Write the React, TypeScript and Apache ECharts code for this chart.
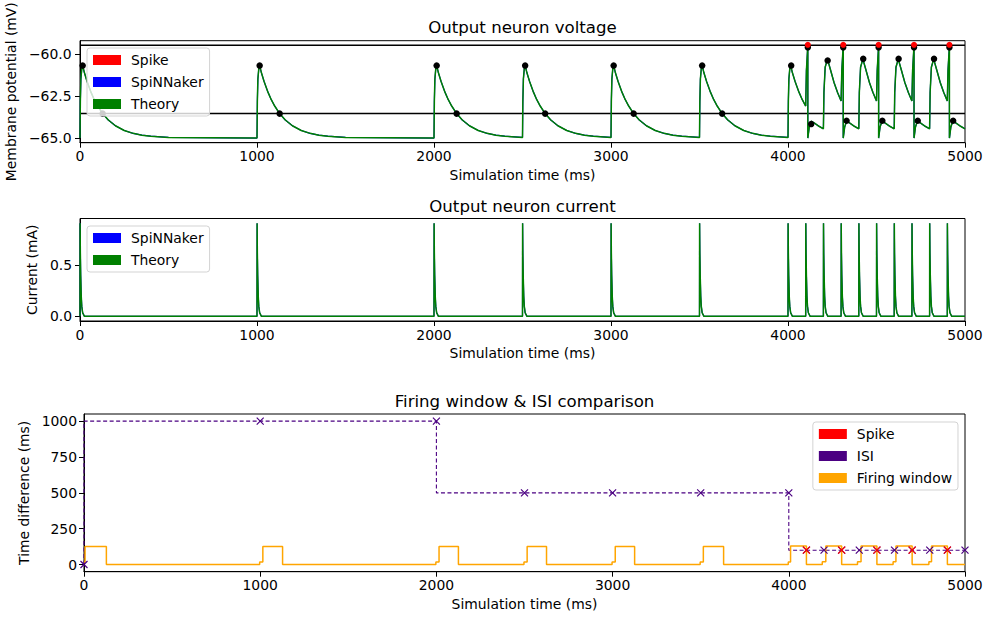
import React, { useEffect, useRef } from 'react';
import * as echarts from 'echarts';

// ---------- data ----------
const simEnd = 5000;
const xTicks = [0, 1000, 2000, 3000, 4000, 5000];

const inputTimes = [0, 1000, 2000, 2500, 3000, 3500, 4000, 4100, 4200, 4300, 4400, 4500, 4600, 4700, 4800, 4900];
const segmentKinds = ['rest', 'rest', 'rest', 'rest', 'rest', 'rest', 'rest', 'spike', 'rebound', 'spike', 'rebound', 'spike', 'rebound', 'spike', 'rebound', 'spike'];

// voltage response after an input from rest (ms offset, mV)
const restOffsets = [0, 2, 5, 10, 15, 25, 40, 60, 80, 100, 128, 160, 200, 250, 300, 350, 400, 500];
const restValues = [-65.0, -62.8, -61.5, -60.9, -60.7, -61.13, -61.64, -62.23, -62.71, -63.1, -63.55, -63.93, -64.27, -64.55, -64.72, -64.83, -64.89, -64.96];
// input that crosses threshold, reset, then small rise
const spikeOffsets = [4, 12, 12, 20, 31, 50, 75, 100];
const spikeValues = [-61.0, -59.5, -65.0, -64.35, -64.0, -64.12, -64.3, -64.45];
// input from just below rest after a reset
const reboundOffsets = [3, 10, 23, 40, 60, 80, 100];
const reboundValues = [-62.3, -60.8, -60.32, -60.95, -61.7, -62.3, -62.8];

// synaptic current kernel (ms offset, mA)
const currentOffsets = [0, 0.6, 2, 4, 7, 10, 15, 25];
const currentValues = [0, 0.914, 0.62, 0.4, 0.2, 0.1, 0.035, 0];

const thresholdV = -59.5;
const windowBoundV = -63.55;

const peakDotTimes = [15, 1015, 2015, 2515, 3015, 3515, 4018, 4224, 4425, 4625, 4825];
const peakDotValues = [-60.7, -60.7, -60.7, -60.7, -60.7, -60.7, -60.7, -60.4, -60.3, -60.3, -60.3];
const lowDotTimes = [128, 1128, 2128, 2628, 3128, 3628, 4131, 4331, 4533, 4733, 4933];
const lowDotValues = [-63.55, -63.55, -63.55, -63.55, -63.55, -63.55, -64.17, -63.97, -63.97, -63.97, -63.97];
const outputSpikeTimes = [4112, 4312, 4512, 4712, 4912];

// ISI
const isiTimes = [0, 1000, 2000, 2500, 3000, 3500, 4000, 4100, 4200, 4300, 4400, 4500, 4600, 4700, 4800, 4900, 5000];
const isiValues = [0, 1000, 1000, 500, 500, 500, 500, 100, 100, 100, 100, 100, 100, 100, 100, 100, 100];
const spikeIsiTimes = [4100, 4300, 4500, 4700, 4900];
const spikeIsiValues = [100, 100, 100, 100, 100];

// firing window (value held from each time)
const windowTimes = [0, 6, 127, 997, 1015, 1127, 1997, 2015, 2125, 2497, 2515, 2625, 2997, 3015, 3125, 3497, 3515, 3630, 3997, 4010, 4100, 4190, 4210, 4300, 4390, 4410, 4500, 4592, 4608, 4700, 4795, 4810, 4900, 5000];
const windowValues = [18, 125, 0, 18, 125, 0, 18, 125, 0, 18, 125, 0, 18, 125, 0, 18, 125, 0, 18, 130, 0, 20, 130, 0, 20, 130, 0, 20, 130, 0, 20, 130, 0, 0];

const vTicks = [-65, -62.5, -60];
const iTicks = [0, 0.5];
const dTicks = [0, 250, 500, 750, 1000];

// ---------- build ----------
const profiles: Record<string, { o: number[]; v: number[] }> = {
  rest: { o: restOffsets, v: restValues },
  spike: { o: spikeOffsets, v: spikeValues },
  rebound: { o: reboundOffsets, v: reboundValues },
};

function buildVoltage() {
  const pts: number[][] = [];
  inputTimes.forEach((t0, i) => {
    const t1 = i + 1 < inputTimes.length ? inputTimes[i + 1] : simEnd;
    const p = profiles[segmentKinds[i]];
    p.o.forEach((off, j) => {
      if (t0 + off <= t1) pts.push([t0 + off, p.v[j]]);
    });
  });
  return pts;
}

function buildCurrent() {
  const pts: number[][] = [];
  inputTimes.forEach((t0) => {
    currentOffsets.forEach((off, j) => pts.push([t0 + off, currentValues[j]]));
  });
  pts.push([simEnd, 0]);
  return pts;
}

const zip = (a: number[], b: number[]) => a.map((x, i) => [x, b[i]]);

const FONT = 'DejaVu Sans';
const FS = 13.9;
const xMark = 'path://M0,0L10,10M10,0L0,10';

function xAxisCfg(gridIndex: number) {
  return {
    type: 'value',
    gridIndex,
    min: 0,
    max: simEnd,
    interval: 1000,
    name: 'Simulation time (ms)',
    nameLocation: 'middle',
    nameGap: 25,
    nameTextStyle: { fontSize: FS, color: '#000', fontFamily: FONT },
    axisLine: { show: true, onZero: false, lineStyle: { color: '#000', width: 1 } },
    axisTick: { show: true, inside: false, length: 5, lineStyle: { color: '#000', width: 1 }, customValues: xTicks },
    axisLabel: { color: '#000', fontSize: FS, fontFamily: FONT, margin: 6.5, customValues: xTicks, formatter: (v: number) => String(v) },
    splitLine: { show: false },
  };
}

function yAxisCfg(gridIndex: number, min: number, max: number, ticks: number[], name: string, nameGap: number, fmt: (v: number) => string, margin: number) {
  return {
    type: 'value',
    gridIndex,
    min,
    max,
    name,
    nameLocation: 'middle',
    nameGap,
    nameTextStyle: { fontSize: FS, color: '#000', fontFamily: FONT },
    axisLine: { show: true, onZero: false, lineStyle: { color: '#000', width: 1 } },
    axisTick: { show: true, inside: false, length: 5, lineStyle: { color: '#000', width: 1 }, customValues: ticks },
    axisLabel: { color: '#000', fontSize: FS, fontFamily: FONT, margin, customValues: ticks, formatter: fmt },
    splitLine: { show: false },
  };
}

const legendBase = {
  orient: 'vertical',
  icon: 'rect',
  itemWidth: 28,
  itemHeight: 10,
  itemGap: 8,
  padding: [5, 6, 5, 6],
  backgroundColor: 'rgba(255,255,255,0.8)',
  borderColor: '#d3d3d3',
  borderWidth: 1,
  borderRadius: 3,
  selectedMode: false,
  z: 20,
  textStyle: { fontSize: FS, fontFamily: FONT, color: '#000', lineHeight: 14, padding: [0, 0, 0, 5] },
};

const RED = '#ff0000';
const BLUE = '#0000ff';
const GREEN = '#008000';
const INDIGO = '#4b0082';
const ORANGE = '#ffa500';

const legendItem = (name: string, color: string) => ({ name, itemStyle: { color, borderWidth: 0, opacity: 1 } });

export default function App() {
  const ref = useRef<HTMLDivElement>(null);
  useEffect(() => {
    if (!ref.current) return;
    const chart = echarts.init(ref.current, null, { renderer: 'svg' });
    const voltage = buildVoltage();
    const current = buildCurrent();
    const minus = (s: string) => s.replace('-', '\u2212');
    const titleStyle = { fontSize: 16.6, fontWeight: 'normal', color: '#000', fontFamily: FONT };

    const option: any = {
      animation: false,
      textStyle: { fontFamily: FONT },
      title: [
        { text: 'Output neuron voltage', left: 522.5, top: 27, textAlign: 'center', textVerticalAlign: 'middle', padding: 0, textStyle: titleStyle },
        { text: 'Output neuron current', left: 522.5, top: 206, textAlign: 'center', textVerticalAlign: 'middle', padding: 0, textStyle: titleStyle },
        { text: 'Firing window & ISI comparison', left: 524.5, top: 401, textAlign: 'center', textVerticalAlign: 'middle', padding: 0, textStyle: titleStyle },
      ],
      grid: [
        { left: 80, top: 40.7, width: 885, height: 102, show: true, borderColor: '#000', borderWidth: 1, backgroundColor: '#fff', outerBoundsMode: 'none' },
        { left: 80, top: 218.5, width: 885, height: 102.5, show: true, borderColor: '#000', borderWidth: 1, backgroundColor: '#fff', outerBoundsMode: 'none' },
        { left: 84, top: 414, width: 881, height: 157.7, show: true, borderColor: '#000', borderWidth: 1, backgroundColor: '#fff', outerBoundsMode: 'none' },
      ],
      xAxis: [xAxisCfg(0), xAxisCfg(1), xAxisCfg(2)],
      yAxis: [
        yAxisCfg(0, -65.275, -59.225, vTicks, 'Membrane potential (mV)', 55.5, (v: number) => minus(v.toFixed(1)), 8.5),
        yAxisCfg(1, -0.0457, 0.96, iTicks, 'Current (mA)', 36, (v: number) => v.toFixed(1), 8),
        yAxisCfg(2, -50, 1050, dTicks, 'Time difference (ms)', 49, (v: number) => String(v), 7),
      ],
      legend: [
        { ...legendBase, left: 87, top: 48, data: [legendItem('Spike', RED), legendItem('SpiNNaker', BLUE), legendItem('Theory', GREEN)] },
        { ...legendBase, left: 87, top: 226, data: [legendItem('SpiNNaker', BLUE), legendItem('Theory', GREEN)] },
        { ...legendBase, right: 26, top: 422, data: [legendItem('Spike', RED), legendItem('ISI', INDIGO), legendItem('Firing window', ORANGE)] },
      ],
      series: [
        // ---- voltage ----
        { name: 'Threshold', type: 'line', xAxisIndex: 0, yAxisIndex: 0, data: [[0, thresholdV], [simEnd, thresholdV]], showSymbol: false, silent: true, lineStyle: { color: '#000', width: 1.5 }, itemStyle: { color: '#000' } },
        { name: 'Window bound', type: 'line', xAxisIndex: 0, yAxisIndex: 0, data: [[0, windowBoundV], [simEnd, windowBoundV]], showSymbol: false, silent: true, lineStyle: { color: '#000', width: 1.5 }, itemStyle: { color: '#000' } },
        { name: 'SpiNNaker', type: 'line', xAxisIndex: 0, yAxisIndex: 0, data: voltage, showSymbol: false, lineStyle: { color: BLUE, width: 1.2 }, itemStyle: { color: BLUE } },
        { name: 'Theory', type: 'line', xAxisIndex: 0, yAxisIndex: 0, data: voltage, showSymbol: false, lineStyle: { color: GREEN, width: 1.5 }, itemStyle: { color: GREEN } },
        { name: 'Markers', type: 'scatter', xAxisIndex: 0, yAxisIndex: 0, data: zip(peakDotTimes, peakDotValues).concat(zip(lowDotTimes, lowDotValues)).concat(outputSpikeTimes.map((t) => [t, thresholdV - 0.12])), symbol: 'circle', symbolSize: 6.5, itemStyle: { color: '#000', opacity: 1 }, z: 3 },
        { name: 'Spike', type: 'scatter', xAxisIndex: 0, yAxisIndex: 0, data: outputSpikeTimes.map((t) => [t, thresholdV + 0.03]), symbol: 'circle', symbolSize: 6, itemStyle: { color: RED, opacity: 1 }, z: 4 },
        // ---- current ----
        { name: 'SpiNNaker', type: 'line', xAxisIndex: 1, yAxisIndex: 1, data: current, showSymbol: false, lineStyle: { color: BLUE, width: 1.2 }, itemStyle: { color: BLUE } },
        { name: 'Theory', type: 'line', xAxisIndex: 1, yAxisIndex: 1, data: current, showSymbol: false, lineStyle: { color: GREEN, width: 1.5 }, itemStyle: { color: GREEN } },
        // ---- firing window & ISI ----
        { name: 'ISI', type: 'line', xAxisIndex: 2, yAxisIndex: 2, data: zip(isiTimes, isiValues), step: 'start', symbol: xMark, symbolSize: 7, showSymbol: true, lineStyle: { color: INDIGO, width: 1.1, type: [4, 2.5] }, itemStyle: { color: INDIGO, borderColor: INDIGO, borderWidth: 1.2 } },
        { name: 'Firing window', type: 'line', xAxisIndex: 2, yAxisIndex: 2, data: zip(windowTimes, windowValues), step: 'end', showSymbol: false, lineStyle: { color: ORANGE, width: 1.5 }, itemStyle: { color: ORANGE } },
        { name: 'Spike', type: 'scatter', xAxisIndex: 2, yAxisIndex: 2, data: zip(spikeIsiTimes, spikeIsiValues), symbol: xMark, symbolSize: 7, itemStyle: { color: RED, borderColor: RED, borderWidth: 1.2, opacity: 1 }, z: 4 },
      ],
    };
    chart.setOption(option);
    return () => chart.dispose();
  }, []);
  return <div ref={ref} style={{ position: 'fixed', left: 0, top: 0, width: 984, height: 617, background: '#fff' }} />;
}
